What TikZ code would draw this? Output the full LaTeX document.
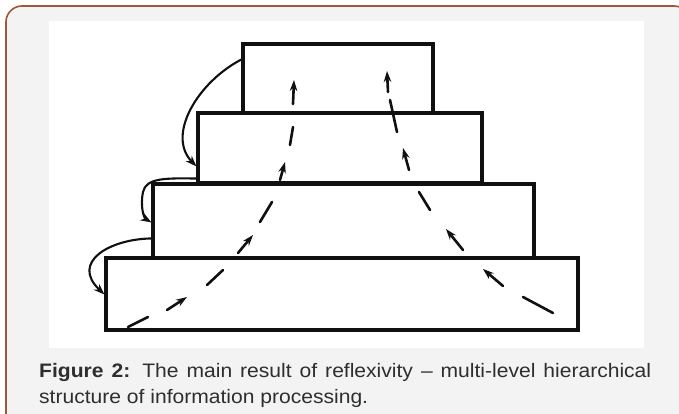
\documentclass[tikz,border=0pt]{standalone}
\usepackage{fontspec}
\setmainfont{Liberation Sans}
\newfontfamily\capfont[FakeStretch=1.08,Ligatures=TeX]{Liberation Sans}
\usetikzlibrary{arrows.meta}
\definecolor{cardbg}{HTML}{F3F3F3}
\definecolor{cardborder}{HTML}{A0563A}
\definecolor{ink}{HTML}{101010}
\definecolor{captxt}{HTML}{2E2E2E}
\tikzset{
  level/.style={draw=ink, line width=3.1pt, rectangle, inner sep=0pt, fill=white},
  loop/.style={draw=ink, line width=2.1pt, -{Stealth[length=11pt,width=8pt]}},
  flow/.style={draw=ink, line width=2.6pt, line cap=round},
  flowtip/.style={flow, -{Stealth[length=11pt,width=7.5pt]}},
}
\begin{document}
\begin{tikzpicture}[x=1pt,y=-1pt]
\useasboundingbox (0,0) rectangle (679,414);
\begin{scope}
\clip (0,0) rectangle (679,414);
\draw[fill=cardbg, draw=cardborder, line width=1.6pt, rounded corners=16pt] (6,6) rectangle (690,430);
\end{scope}
\fill[white] (49,21) rectangle (644,348);
% levels
\node[level, minimum width=472pt, minimum height=72pt] (L4) at (342,294) {};
\node[level, minimum width=381pt, minimum height=74pt] (L3) at (343.5,221) {};
\node[level, minimum width=284pt, minimum height=70pt] (L2) at (340,148) {};
\node[level, minimum width=190pt, minimum height=69pt] (L1) at (338,78.5) {};
% feedback loops on the left
\coordinate (a1) at ([yshift=-17pt]L1.north west);
\coordinate (b1) at ([yshift=-55pt]L2.north west);
\draw[loop] (a1) .. controls (198,82) and (166,135) .. (b1);
\coordinate (a2) at ([yshift=6pt]L2.south west);
\coordinate (b2) at ([yshift=-40pt]L3.north west);
\draw[loop] (a2) .. controls (165,178) and (146,178) .. (143,192) .. controls (140,207) and (144,218) .. (b2);
\coordinate (a3) at ([yshift=-56pt]L3.north west);
\coordinate (b3) at ([yshift=-38pt]L4.north west);
\draw[loop] (a3) .. controls (110,239) and (70,262) .. (b3);
% upward flow, left
\draw[flow] (128,327) -- (148,317);
\draw[flowtip] (167,310) -- (187,297);
\draw[flow] (207,285) -- (223,270);
\draw[flowtip] (238,253) -- (253,235);
\draw[flow] (260,222) -- (272,202);
\draw[flowtip] (280,180) -- (285,162);
\draw[flow] (290,145) -- (293,127);
\draw[flowtip] (293,104) -- (294,80);
% upward flow, right
\draw[flow] (553,313) -- (523,297);
\draw[flowtip] (503,286) -- (483,269);
\draw[flowtip] (463,250) -- (446,229);
\draw[flow] (430,210) -- (419,192);
\draw[flowtip] (409,170) -- (403,148);
\draw[flow] (397,132) -- (390,100);
\draw[flowtip] (388,92) -- (387,71);
% caption
\node[anchor=base west, inner sep=0pt, text width=612pt, align=justify, text=captxt,
      font=\capfont\fontsize{19.5}{26}\selectfont] (cap) at (39,377)
  {\hyphenpenalty=10000\exhyphenpenalty=10000\textbf{Figure 2:} The main result of reflexivity – multi-level hierarchical structure of information processing.};
\end{tikzpicture}
\end{document}
